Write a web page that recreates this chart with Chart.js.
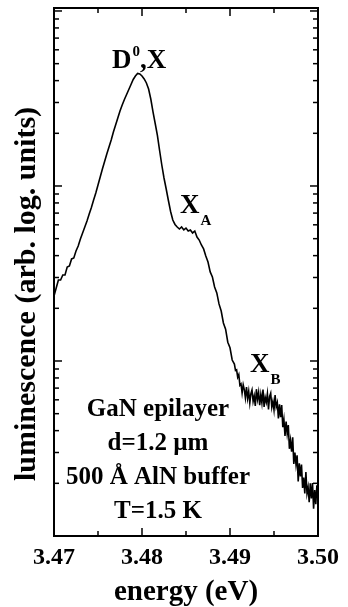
<!DOCTYPE html>
<html>
<head>
<meta charset="utf-8">
<script src="https://cdn.jsdelivr.net/npm/chart.js@4.4.0/dist/chart.umd.min.js"></script>
<style>
  html, body { margin: 0; padding: 0; background: #fff; }
</style>
</head>
<body>
<canvas id="pl" width="348" height="607"></canvas>
<script>
// photon energy (eV); sampled more finely over the noisy high-energy tail
var energy = [
  3.47000, 3.47025, 3.47050, 3.47075, 3.47100, 3.47125, 3.47150, 3.47175, 3.47200, 3.47225,
  3.47250, 3.47275, 3.47300, 3.47325, 3.47350, 3.47375, 3.47400, 3.47425, 3.47450, 3.47475,
  3.47500, 3.47525, 3.47550, 3.47575, 3.47600, 3.47625, 3.47650, 3.47675, 3.47700, 3.47725,
  3.47750, 3.47775, 3.47800, 3.47825, 3.47850, 3.47875, 3.47900, 3.47925, 3.47950, 3.47975,
  3.48000, 3.48025, 3.48050, 3.48075, 3.48100, 3.48125, 3.48150, 3.48175, 3.48200, 3.48225,
  3.48250, 3.48275, 3.48300, 3.48325, 3.48350, 3.48375, 3.48400, 3.48425, 3.48450, 3.48475,
  3.48500, 3.48525, 3.48550, 3.48575, 3.48600, 3.48625, 3.48650, 3.48675, 3.48700, 3.48725,
  3.48750, 3.48775, 3.48800, 3.48825, 3.48850, 3.48875, 3.48900, 3.48925, 3.48950, 3.48975,
  3.49000, 3.49025,
  3.490500, 3.490625, 3.490750, 3.490875, 3.491000, 3.491125, 3.491250, 3.491375,
  3.491500, 3.491625, 3.491750, 3.491875, 3.492000, 3.492125, 3.492250, 3.492375,
  3.492500, 3.492625, 3.492750, 3.492875, 3.493000, 3.493125, 3.493250, 3.493375,
  3.493500, 3.493625, 3.493750, 3.493875, 3.494000, 3.494125, 3.494250, 3.494375,
  3.494500, 3.494625, 3.494750, 3.494875, 3.495000, 3.495125, 3.495250, 3.495375,
  3.495500, 3.495625, 3.495750, 3.495875, 3.496000, 3.496125, 3.496250, 3.496375,
  3.496500, 3.496625, 3.496750, 3.496875, 3.497000, 3.497125, 3.497250, 3.497375,
  3.497500, 3.497625, 3.497750, 3.497875, 3.498000, 3.498125, 3.498250, 3.498375,
  3.498500, 3.498625, 3.498750, 3.498875, 3.499000, 3.499125, 3.499250, 3.499375,
  3.499500, 3.499625, 3.499750, 3.499875, 3.500000
];

// luminescence, arb. units (log axis)
var lum = [
  23.5, 26.1, 29.0, 29.0, 31.0, 31.0, 34.4, 34.9, 38.3, 38.8,
  42.5, 45.4, 49.8, 53.9, 58.3, 63.1, 69.2, 75.4, 83.2, 91.2,
  101.3, 112.6, 125.1, 138.0, 152.4, 167.1, 183.2, 203.5, 223.1, 244.7,
  268.3, 290.3, 312.1, 333.3, 356.0, 380.2, 406.1, 425.2, 439.4, 436.5,
  425.2, 408.7, 387.8, 358.4, 314.1, 264.8, 227.6, 194.4, 159.5, 131.8,
  111.1, 96.1, 82.6, 71.5, 63.9, 60.3, 58.3, 56.8, 58.3, 56.1,
  57.5, 55.3, 56.1, 53.9, 55.3, 51.1, 49.1, 46.0, 43.7, 39.8,
  36.8, 32.3, 30.2, 26.5, 24.5, 21.2, 19.3, 16.5, 15.2, 12.8,
  11.9, 10.13,
  9.61, 8.83, 8.91, 8.08, 8.37, 7.26, 7.39, 6.55,
  7.32, 6.87, 6.15, 7.09, 6.11, 6.71, 5.76, 6.51,
  6.84, 5.88, 6.31, 5.53, 6.90, 6.04, 6.62, 5.60,
  6.43, 5.76, 6.87, 5.47, 6.20, 5.82, 6.50, 5.29,
  6.28, 6.55, 5.45, 5.88, 5.26, 6.38, 5.47, 5.78,
  4.70, 5.66, 4.77, 5.60, 4.19, 4.64, 3.73, 4.51,
  3.84, 4.30, 3.15, 3.53, 3.03, 3.66, 2.58, 3.00,
  2.56, 2.89, 2.05, 2.60, 2.19, 2.56, 1.88, 2.16,
  1.75, 2.32, 1.75, 1.90, 1.56, 2.00, 1.64, 2.01,
  1.43, 1.83, 1.52, 1.95, 1.63
];

var xMajor = [3.47, 3.48, 3.49, 3.50];
var xMinor = [3.475, 3.485, 3.495];
var yMajor = [1, 10, 100, 1000];
var yMinor = [2, 3, 4, 5, 6, 7, 8, 9, 20, 30, 40, 50, 60, 70, 80, 90, 200, 300, 400, 500, 600, 700, 800, 900];
var sampleLines = ['GaN epilayer', 'd=1.2 \u00b5m', '500 \u00c5 AlN buffer', 'T=1.5 K'];

var serif = '"Liberation Serif", "Times New Roman", serif';

function bold(size) { return 'bold ' + size + 'px ' + serif; }

var decor = {
  id: 'decor',
  afterDraw: function(chart) {
    var ctx = chart.ctx, a = chart.chartArea;
    var xs = chart.scales.x, ys = chart.scales.y;
    ctx.save();
    ctx.strokeStyle = '#000';
    ctx.fillStyle = '#000';

    // frame
    ctx.lineWidth = 2;
    ctx.strokeRect(a.left, a.top, a.right - a.left, a.bottom - a.top);

    // inward ticks on all four sides
    ctx.lineWidth = 1.5;
    function seg(x1, y1, x2, y2) {
      ctx.beginPath(); ctx.moveTo(x1, y1); ctx.lineTo(x2, y2); ctx.stroke();
    }
    function xt(v, len) {
      var p = xs.getPixelForValue(v);
      seg(p, a.bottom, p, a.bottom - len);
      seg(p, a.top, p, a.top + len);
    }
    function yt(v, len) {
      var p = ys.getPixelForValue(v);
      seg(a.left, p, a.left + len, p);
      seg(a.right, p, a.right - len, p);
    }
    xMajor.forEach(function(v) { xt(v, 8); });
    xMinor.forEach(function(v) { xt(v, 5); });
    yMajor.forEach(function(v) { yt(v, 8); });
    yMinor.forEach(function(v) { yt(v, 5); });

    // y axis title
    ctx.save();
    ctx.translate(27, 294);
    ctx.rotate(-Math.PI / 2);
    ctx.font = bold(30);
    ctx.textAlign = 'center';
    ctx.textBaseline = 'middle';
    ctx.fillText('luminescence (arb. log. units)', 0, 0);
    ctx.restore();

    // peak labels
    ctx.textAlign = 'left';
    ctx.textBaseline = 'alphabetic';
    var x;
    ctx.font = bold(27);
    ctx.fillText('D', 112, 68);
    x = 112 + ctx.measureText('D').width + 1;
    ctx.font = bold(15);
    ctx.fillText('0', x, 56);
    x += ctx.measureText('0').width;
    ctx.font = bold(27);
    ctx.fillText(',X', x, 68);

    ctx.font = bold(27);
    ctx.fillText('X', 180, 213);
    x = 180 + ctx.measureText('X').width + 1;
    ctx.font = bold(15);
    ctx.fillText('A', x, 225);

    ctx.font = bold(27);
    ctx.fillText('X', 250, 372);
    x = 250 + ctx.measureText('X').width + 1;
    ctx.font = bold(15);
    ctx.fillText('B', x, 384);

    // sample description
    ctx.font = bold(25);
    ctx.textAlign = 'center';
    ctx.textBaseline = 'middle';
    sampleLines.forEach(function(t, i) {
      ctx.fillText(t, 158, 410 + i * 34);
    });
    ctx.restore();
  }
};

var points = energy.map(function(e, i) { return { x: e, y: lum[i] }; });

new Chart(document.getElementById('pl'), {
  type: 'line',
  data: {
    datasets: [{
      data: points,
      borderColor: '#000',
      borderWidth: 1.6,
      pointRadius: 0,
      tension: 0,
      fill: false
    }]
  },
  options: {
    responsive: false,
    animation: false,
    events: [],
    layout: { padding: { top: 8, right: 30, left: 0, bottom: 0 } },
    plugins: { legend: { display: false }, tooltip: { enabled: false } },
    scales: {
      x: {
        type: 'linear',
        min: 3.47,
        max: 3.50,
        afterFit: function(s) { s.height = 71; },
        afterBuildTicks: function(s) { s.ticks = xMajor.map(function(v) { return { value: v }; }); },
        grid: { display: false, drawTicks: false },
        border: { display: false },
        ticks: {
          color: '#000',
          padding: 7,
          maxRotation: 0,
          font: { family: serif, weight: 'bold', size: 24 },
          callback: function(v) { return Number(v).toFixed(2); }
        },
        title: {
          display: true,
          text: 'energy (eV)',
          color: '#000',
          font: { family: serif, weight: 'bold', size: 29, lineHeight: 1 },
          padding: { top: 0, bottom: 0 }
        }
      },
      y: {
        type: 'logarithmic',
        min: 1,
        max: 1040,
        afterFit: function(s) { s.width = 54; },
        grid: { display: false, drawTicks: false },
        border: { display: false },
        ticks: { display: false }
      }
    }
  },
  plugins: [decor]
});
</script>
</body>
</html>
